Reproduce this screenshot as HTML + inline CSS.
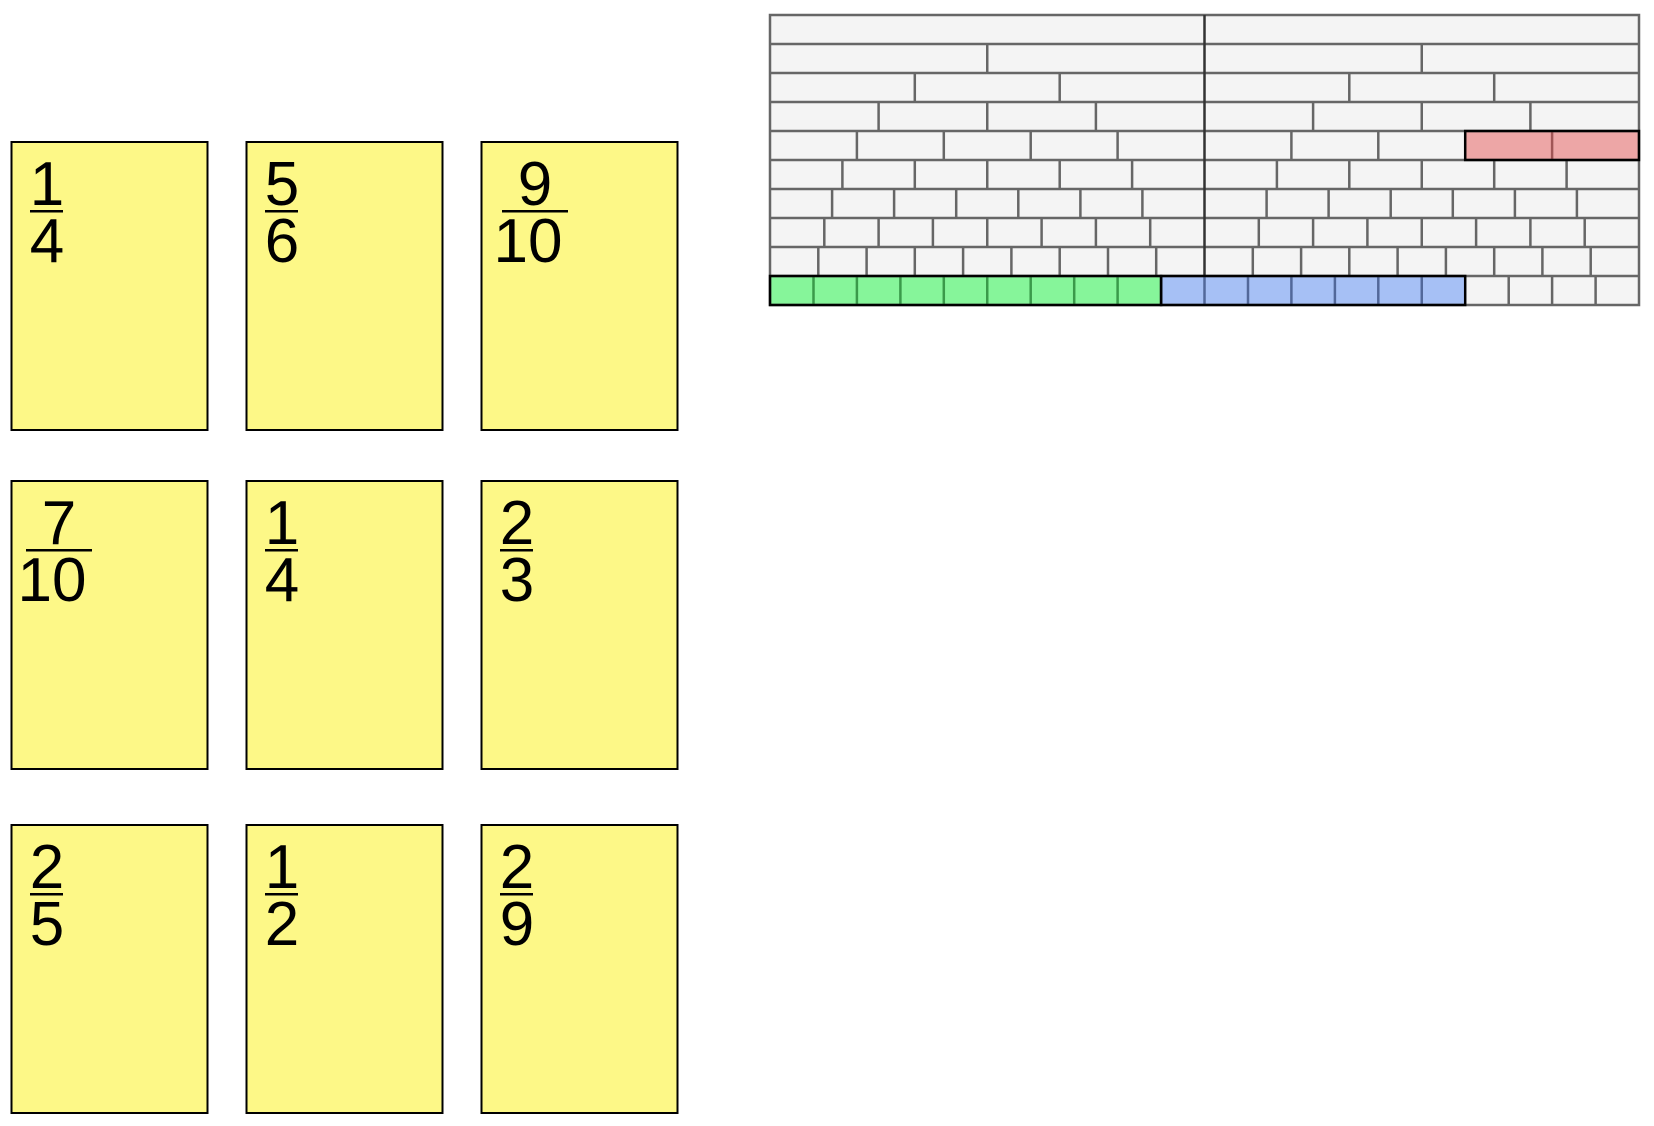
<!DOCTYPE html>
<html><head><meta charset="utf-8"><style>html,body{margin:0;padding:0;background:#fff;}svg{display:block}</style></head>
<body>
<svg width="1654" height="1126" xmlns="http://www.w3.org/2000/svg" font-family="Liberation Sans, Arial, sans-serif">
<g fill="#fdf887" stroke="#000" stroke-width="2">
<rect x="11.5" y="142" width="196" height="288"/>
<rect x="246.5" y="142" width="196" height="288"/>
<rect x="481.5" y="142" width="196" height="288"/>
<rect x="11.5" y="481" width="196" height="288"/>
<rect x="246.5" y="481" width="196" height="288"/>
<rect x="481.5" y="481" width="196" height="288"/>
<rect x="11.5" y="825" width="196" height="288"/>
<rect x="246.5" y="825" width="196" height="288"/>
<rect x="481.5" y="825" width="196" height="288"/>
</g>
<g font-size="62" text-anchor="middle" fill="#000">
<text x="47" y="205">1</text><rect x="30" y="210" width="33" height="2.5"/><text x="47" y="262">4</text>
<text x="282" y="205">5</text><rect x="265" y="210" width="33" height="2.5"/><text x="282" y="262">6</text>
<text x="535" y="205">9</text><rect x="502" y="210" width="66" height="2.5"/><text x="528" y="262">10</text>
<text x="59" y="544">7</text><rect x="26" y="549" width="66" height="2.5"/><text x="52" y="601">10</text>
<text x="282" y="544">1</text><rect x="265" y="549" width="33" height="2.5"/><text x="282" y="601">4</text>
<text x="517" y="544">2</text><rect x="500" y="549" width="33" height="2.5"/><text x="517" y="601">3</text>
<text x="47" y="888">2</text><rect x="30" y="893" width="33" height="2.5"/><text x="47" y="945">5</text>
<text x="282" y="888">1</text><rect x="265" y="893" width="33" height="2.5"/><text x="282" y="945">2</text>
<text x="517" y="888">2</text><rect x="500" y="893" width="33" height="2.5"/><text x="517" y="945">9</text>
</g>
<rect x="770" y="15" width="869" height="290" fill="#f4f4f4"/>
<rect x="1465.2" y="131" width="173.8" height="29" fill="#eda6a6"/>
<rect x="770" y="276" width="391.1" height="29" fill="#86f59a"/>
<rect x="1161.1" y="276" width="304.1" height="29" fill="#a6c0f5"/>
<g stroke="#666" stroke-width="2.5" fill="none">
<path d="M770 44H1639M770 73H1639M770 102H1639M770 131H1639M770 160H1639M770 189H1639M770 218H1639M770 247H1639M770 276H1639"/>
<path d="M987.25 44v29M1421.75 44v29
M914.8 73v29M1059.7 73v29M1349.3 73v29M1494.2 73v29
M878.6 102v29M987.25 102v29M1095.9 102v29M1313.1 102v29M1421.75 102v29M1530.4 102v29
M856.9 131v29M943.8 131v29M1030.7 131v29M1117.6 131v29M1291.4 131v29M1378.3 131v29
M842.4 160v29M914.8 160v29M987.25 160v29M1059.7 160v29M1132.1 160v29M1276.9 160v29M1349.3 160v29M1421.75 160v29M1494.2 160v29M1566.6 160v29
M832.1 189v29M894.1 189v29M956.2 189v29M1018.3 189v29M1080.4 189v29M1142.4 189v29M1266.6 189v29M1328.6 189v29M1390.7 189v29M1452.8 189v29M1514.9 189v29M1576.9 189v29
M824.3 218v29M878.6 218v29M932.9 218v29M987.25 218v29M1041.6 218v29M1095.9 218v29M1150.2 218v29M1258.8 218v29M1313.1 218v29M1367.4 218v29M1421.75 218v29M1476.1 218v29M1530.4 218v29M1584.7 218v29
M818.3 247v29M866.6 247v29M914.8 247v29M963.1 247v29M1011.4 247v29M1059.7 247v29M1108 247v29M1156.2 247v29M1252.8 247v29M1301.1 247v29M1349.3 247v29M1397.6 247v29M1445.9 247v29M1494.2 247v29M1542.4 247v29M1590.7 247v29
M1508.7 276v29M1552.1 276v29M1595.6 276v29"/>
<rect x="770" y="15" width="869" height="290"/>
</g>
<path d="M1552.1 131v29" stroke="#a05656" stroke-width="2.5"/>
<path d="M813.5 276v29M856.9 276v29M900.4 276v29M943.8 276v29M987.25 276v29M1030.7 276v29M1074.2 276v29M1117.6 276v29" stroke="#3a9a4a" stroke-width="2.5"/>
<path d="M1204.5 276v29M1248 276v29M1291.4 276v29M1334.9 276v29M1378.3 276v29M1421.75 276v29" stroke="#52689a" stroke-width="2.5"/>
<path d="M1204.5 15v261" stroke="#333" stroke-width="2.5"/>
<g fill="none" stroke="#000" stroke-width="2.5">
<rect x="1465.2" y="131" width="173.8" height="29"/>
<rect x="770" y="276" width="391.1" height="29"/>
<rect x="1161.1" y="276" width="304.1" height="29"/>
</g>
</svg>
</body></html>
